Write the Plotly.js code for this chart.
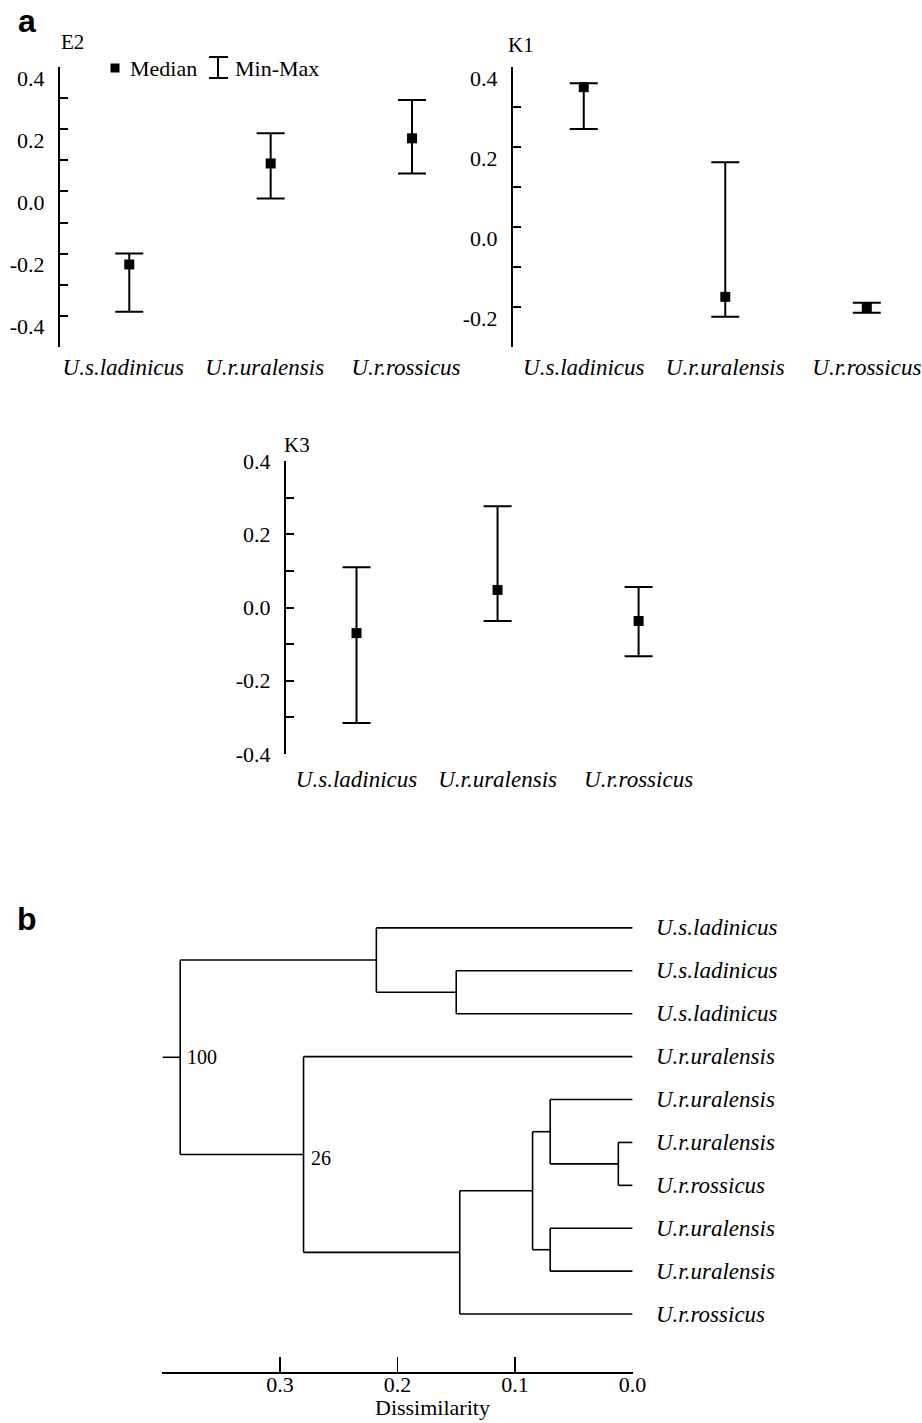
<!DOCTYPE html>
<html>
<head>
<meta charset="utf-8">
<script src="https://cdn.plot.ly/plotly-3.0.1.min.js"></script>
<style>html,body{margin:0;padding:0;background:#fff;}#chart{width:922px;height:1423px;}</style>
</head>
<body>
<div id="chart"></div>
<script>
// ---------- Data: panel a ----------
const categories = ['U.s.ladinicus', 'U.r.uralensis', 'U.r.rossicus'];

const e2Median = [-0.235, 0.090, 0.171];
const e2Min    = [-0.387, -0.023, 0.058];
const e2Max    = [-0.200, 0.187, 0.294];

const k1Median = [0.350, -0.175, -0.202];
const k1Min    = [0.245, -0.225, -0.215];
const k1Max    = [0.360, 0.162, -0.190];

const k3Median = [-0.070, 0.048, -0.037];
const k3Min    = [-0.316, -0.037, -0.133];
const k3Max    = [0.110, 0.277, 0.056];

const e2TickVals = [0.4, 0.3, 0.2, 0.1, 0.0, -0.1, -0.2, -0.3, -0.4, -0.5];
const e2TickText = ['0.4', '', '0.2', '', '0.0', '', '-0.2', '', '-0.4', ''];
const k1TickVals = [0.4, 0.3, 0.2, 0.1, 0.0, -0.1, -0.2, -0.3];
const k1TickText = ['0.4', '', '0.2', '', '0.0', '', '-0.2', ''];
const k3TickVals = [0.4, 0.3, 0.2, 0.1, 0.0, -0.1, -0.2, -0.3, -0.4];
const k3TickText = ['0.4', '', '0.2', '', '0.0', '', '-0.2', '', '-0.4'];

// ---------- Data: panel b (dendrogram) ----------
const leafLabels = ['U.s.ladinicus', 'U.s.ladinicus', 'U.s.ladinicus', 'U.r.uralensis', 'U.r.uralensis',
                    'U.r.uralensis', 'U.r.rossicus', 'U.r.uralensis', 'U.r.uralensis', 'U.r.rossicus'];
// merges create nodes 10, 11, 12, ... in order
const mergeLeft   = [1, 0, 5, 4, 7, 13, 15, 3, 11];
const mergeRight  = [2, 10, 6, 12, 8, 14, 9, 16, 17];
const mergeHeight = [0.150, 0.218, 0.012, 0.070, 0.070, 0.085, 0.147, 0.280, 0.385];
const supportNodes = [18, 17];
const supportText  = ['100', '26'];
const rootStubEnd = 0.4;
const dissTickVals = [0.4, 0.3, 0.2, 0.1, 0.0];
const dissTickText = ['', '0.3', '0.2', '0.1', '0.0'];

// ---------- helpers ----------
const W = 922, H = 1423;
const px = v => v / W;
const py = v => 1 - v / H;
const SERIF = 'Liberation Serif';
const SANS = 'Liberation Sans';

function errTrace(med, mn, mx, xa, ya, name) {
  return {
    type: 'scatter', mode: 'markers', name: name, showlegend: false,
    x: categories, y: med, xaxis: xa, yaxis: ya,
    marker: {symbol: 'square', size: 10, color: 'black'},
    error_y: {type: 'data', symmetric: false,
      array: mx.map((v, i) => v - med[i]),
      arrayminus: med.map((v, i) => v - mn[i]),
      color: 'black', thickness: 2, width: 14},
    cliponaxis: false, hoverinfo: 'x+y'
  };
}

// dendrogram geometry from linkage
const nLeaves = leafLabels.length;
const nodeY = [], nodeH = [];
for (let i = 0; i < nLeaves; i++) { nodeY.push(i); nodeH.push(0); }
const dx = [], dy = [];
for (let m = 0; m < mergeLeft.length; m++) {
  const a = mergeLeft[m], b = mergeRight[m], h = mergeHeight[m];
  const y = (nodeY[a] + nodeY[b]) / 2;
  dx.push(h, h, null); dy.push(nodeY[a], nodeY[b], null);
  dx.push(nodeH[a], h, null); dy.push(nodeY[a], nodeY[a], null);
  dx.push(nodeH[b], h, null); dy.push(nodeY[b], nodeY[b], null);
  nodeY.push(y); nodeH.push(h);
}
const rootId = nodeY.length - 1;
dx.push(nodeH[rootId], rootStubEnd, null); dy.push(nodeY[rootId], nodeY[rootId], null);

const dendroTrace = {
  type: 'scatter', mode: 'lines', x: dx, y: dy, xaxis: 'x4', yaxis: 'y4',
  line: {color: 'black', width: 1.6}, showlegend: false, hoverinfo: 'skip'
};

const data = [
  errTrace(e2Median, e2Min, e2Max, 'x', 'y', 'E2'),
  errTrace(k1Median, k1Min, k1Max, 'x2', 'y2', 'K1'),
  errTrace(k3Median, k3Min, k3Max, 'x3', 'y3', 'K3'),
  dendroTrace
];

function yAx(domain, range, vals, text, anchor, shift) {
  return {
    domain: domain, range: range, anchor: anchor,
    tickmode: 'array', tickvals: vals, ticktext: text,
    ticks: 'inside', ticklen: 8, tickwidth: 2, tickcolor: 'black',
    showline: true, linecolor: 'black', linewidth: 2,
    showgrid: false, zeroline: false,
    tickfont: {family: SERIF, size: 22, color: 'black'},
    ticklabelstandoff: 9, ticklabelshift: shift
  };
}
function xAx(domain, range, anchor, standoff, shift) {
  return {
    domain: domain, range: range, anchor: anchor, type: 'category',
    showline: false, ticks: '', showgrid: false, zeroline: false,
    tickfont: {family: SERIF, size: 23, color: 'black', style: 'italic'},
    ticklabelstandoff: standoff, ticklabelshift: shift
  };
}

const annotations = [];
function txt(x, y, t, size, opts) {
  annotations.push(Object.assign({
    xref: 'paper', yref: 'paper', x: px(x), y: py(y), text: t, showarrow: false,
    xanchor: 'center', yanchor: 'middle',
    font: {family: SERIF, size: size, color: 'black'}
  }, opts || {}));
}
txt(27, 21, '<b>a</b>', 32, {font: {family: SANS, size: 32, color: 'black'}});
txt(27, 919, '<b>b</b>', 32, {font: {family: SANS, size: 32, color: 'black'}});
txt(72, 42, 'E2', 21);
txt(521, 45, 'K1', 21);
txt(297, 445, 'K3', 21);
txt(128, 68, 'Median', 22, {xanchor: 'left'});
txt(233, 68, 'Min-Max', 22, {xanchor: 'left'});
txt(432, 1407, 'Dissimilarity', 22);

// leaf labels
leafLabels.forEach((lab, i) => {
  annotations.push({
    xref: 'x4', yref: 'y4', x: 0, y: i, text: lab, showarrow: false,
    xanchor: 'left', yanchor: 'middle', xshift: 22,
    font: {family: SERIF, size: 23, color: 'black', style: 'italic'}
  });
});
// support values
supportNodes.forEach((n, i) => {
  annotations.push({
    xref: 'x4', yref: 'y4', x: nodeH[n], y: nodeY[n], text: supportText[i], showarrow: false,
    xanchor: 'left', yanchor: 'middle', xshift: 5, yshift: (i === 1 ? -3 : 0),
    font: {family: SERIF, size: 20, color: 'black'}
  });
});

// legend symbols (decoration)
const shapes = [
  {type: 'rect', xref: 'paper', yref: 'paper', x0: px(110.5), x1: px(119.5), y0: py(72.5), y1: py(63.5),
   fillcolor: 'black', line: {width: 0}},
  {type: 'line', xref: 'paper', yref: 'paper', x0: px(218), x1: px(218), y0: py(57), y1: py(78), line: {color: 'black', width: 2}},
  {type: 'line', xref: 'paper', yref: 'paper', x0: px(209), x1: px(228), y0: py(57), y1: py(57), line: {color: 'black', width: 2}},
  {type: 'line', xref: 'paper', yref: 'paper', x0: px(209), x1: px(228), y0: py(78), y1: py(78), line: {color: 'black', width: 2}}
];

const layout = {
  width: W, height: H,
  margin: {l: 0, r: 0, t: 0, b: 0},
  paper_bgcolor: 'white', plot_bgcolor: 'white',
  showlegend: false,
  font: {family: SERIF, color: 'black'},
  xaxis:  xAx([px(60), px(470)], [-0.49, 2.41], 'y', 4, -6),
  yaxis:  yAx([py(347), py(67)], [-0.5005, 0.4005], e2TickVals, e2TickText, 'x', 11),
  xaxis2: xAx([px(513), 1], [-0.5, 2.39], 'y2', 4, 0),
  yaxis2: yAx([py(347), py(67)], [-0.3005, 0.4005], k1TickVals, k1TickText, 'x2', 11),
  xaxis3: xAx([px(286), px(695)], [-0.5, 2.4], 'y3', 9, 0),
  yaxis3: yAx([py(754), py(461)], [-0.4005, 0.4005], k3TickVals, k3TickText, 'x3', 0),
  xaxis4: {
    domain: [px(162), px(633)], range: [0.4005, -0.0005], anchor: 'y4',
    tickmode: 'array', tickvals: dissTickVals, ticktext: dissTickText,
    ticks: 'inside', ticklen: 15, tickwidth: 1.6, tickcolor: 'black',
    showline: true, linecolor: 'black', linewidth: 1.6, showgrid: false, zeroline: false,
    tickfont: {family: SERIF, size: 22, color: 'black'}, ticklabelstandoff: -8
  },
  yaxis4: {
    domain: [py(1372), py(900)], range: [10.35, -0.65], anchor: 'x4',
    visible: false, showgrid: false, zeroline: false
  },
  annotations: annotations,
  shapes: shapes
};

Plotly.newPlot('chart', data, layout, {displayModeBar: false, staticPlot: true});
</script>
</body>
</html>
